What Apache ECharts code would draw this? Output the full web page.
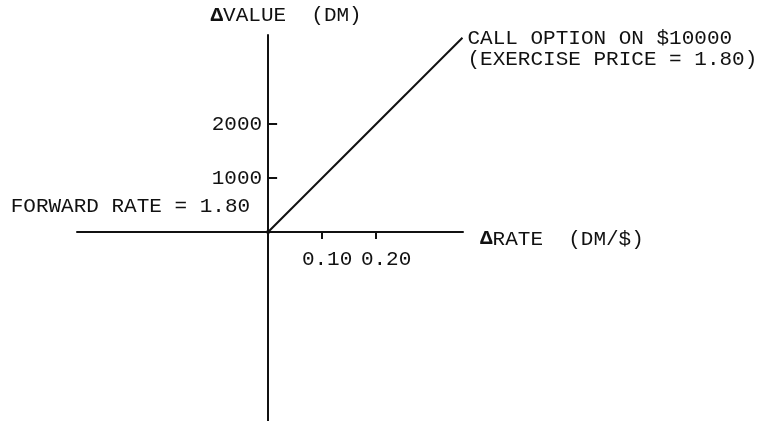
<!DOCTYPE html>
<html>
<head>
<meta charset="utf-8">
<script src="https://cdn.jsdelivr.net/npm/echarts@6/dist/echarts.min.js"></script>
<style>
  html, body { margin: 0; padding: 0; background: #fff; }
  #chart { width: 765px; height: 421px; }
</style>
</head>
<body>
<div id="chart"></div>
<script>
// axis extents (change in rate DM/$, change in value DM)
const rateRange = [-0.354, 0.361]
const valueRange = [-3500, 3650]
const rateTicks = [0.1, 0.2]
const valueTicks = [1000, 2000]

// call option on $10000, exercise price 1.80
const callRate = [0, 0.36]
const callValue = [0, 3600]

// forward rate point
const forwardPoint = [0, 0]

const ink = '#111'
const font = '"Liberation Mono", "DejaVu Sans Mono", monospace'

// grid box; axes are pushed in from the edges so they cross at zero
const gridLeft = 77, gridTop = 35, gridW = 386, gridH = 386
const xPerUnit = gridW / (rateRange[1] - rateRange[0])
const yPerUnit = gridH / (valueRange[1] - valueRange[0])
const xAxisShift = -(0 - valueRange[0]) * yPerUnit
const yAxisShift = -(0 - rateRange[0]) * xPerUnit

const chart = echarts.init(document.getElementById('chart'))

chart.setOption({
  backgroundColor: '#fff',
  animation: false,
  grid: { left: gridLeft, top: gridTop, width: gridW, height: gridH, outerBoundsMode: 'none', containLabel: false },
  xAxis: {
    type: 'value',
    min: rateRange[0],
    max: rateRange[1],
    offset: xAxisShift,
    name: '{d|Δ}RATE  (DM/$)',
    nameLocation: 'end',
    nameGap: 17,
    nameTextStyle: {
      color: ink, fontFamily: font, fontSize: 21,
      verticalAlign: 'middle', padding: [14, 0, 0, 0],
      rich: { d: { fontFamily: font, fontSize: 21, fontWeight: 'bold', color: ink } }
    },
    axisLine: { onZero: false, lineStyle: { color: ink, width: 2 } },
    axisTick: { show: true, inside: false, length: 7, customValues: rateTicks, lineStyle: { color: ink, width: 2 } },
    axisLabel: {
      customValues: rateTicks,
      margin: 17,
      color: ink, fontFamily: font, fontSize: 21,
      // typed labels sit a little right of their ticks, the second one more so
      formatter: v => (rateTicks.indexOf(v) === 0 ? '{a|' : '{b|') + v.toFixed(2) + '}',
      rich: {
        a: { fontFamily: font, fontSize: 21, color: ink, padding: [0, 0, 0, 10] },
        b: { fontFamily: font, fontSize: 21, color: ink, padding: [0, 0, 0, 20] }
      }
    },
    splitLine: { show: false }
  },
  yAxis: {
    type: 'value',
    min: valueRange[0],
    max: valueRange[1],
    offset: yAxisShift,
    name: '{d|Δ}VALUE  (DM)',
    nameLocation: 'end',
    nameGap: 9,
    nameTextStyle: {
      color: ink, fontFamily: font, fontSize: 21,
      padding: [0, 0, 0, 36],
      rich: { d: { fontFamily: font, fontSize: 21, fontWeight: 'bold', color: ink } }
    },
    axisLine: { onZero: false, lineStyle: { color: ink, width: 2 } },
    axisTick: { show: true, inside: true, length: 9, customValues: valueTicks, lineStyle: { color: ink, width: 2 } },
    axisLabel: {
      customValues: valueTicks,
      margin: 6,
      color: ink, fontFamily: font, fontSize: 21,
      formatter: v => String(v)
    },
    splitLine: { show: false }
  },
  series: [
    {
      name: 'call',
      type: 'line',
      data: callRate.map((r, i) => [r, callValue[i]]),
      showSymbol: false,
      lineStyle: { color: ink, width: 2 },
      endLabel: {
        show: true,
        distance: 5,
        offset: [0, 11],
        color: ink, fontFamily: font, fontSize: 21, lineHeight: 21,
        formatter: 'CALL OPTION ON $10000\n(EXERCISE PRICE = 1.80)'
      }
    },
    {
      name: 'forward',
      type: 'scatter',
      data: [forwardPoint],
      symbolSize: 4,
      itemStyle: { color: ink, opacity: 1 },
      label: {
        show: true,
        position: 'left',
        distance: 16,
        offset: [0, -26],
        opacity: 1,
        color: ink, fontFamily: font, fontSize: 21,
        formatter: 'FORWARD RATE = 1.80'
      }
    }
  ]
})
</script>
</body>
</html>
